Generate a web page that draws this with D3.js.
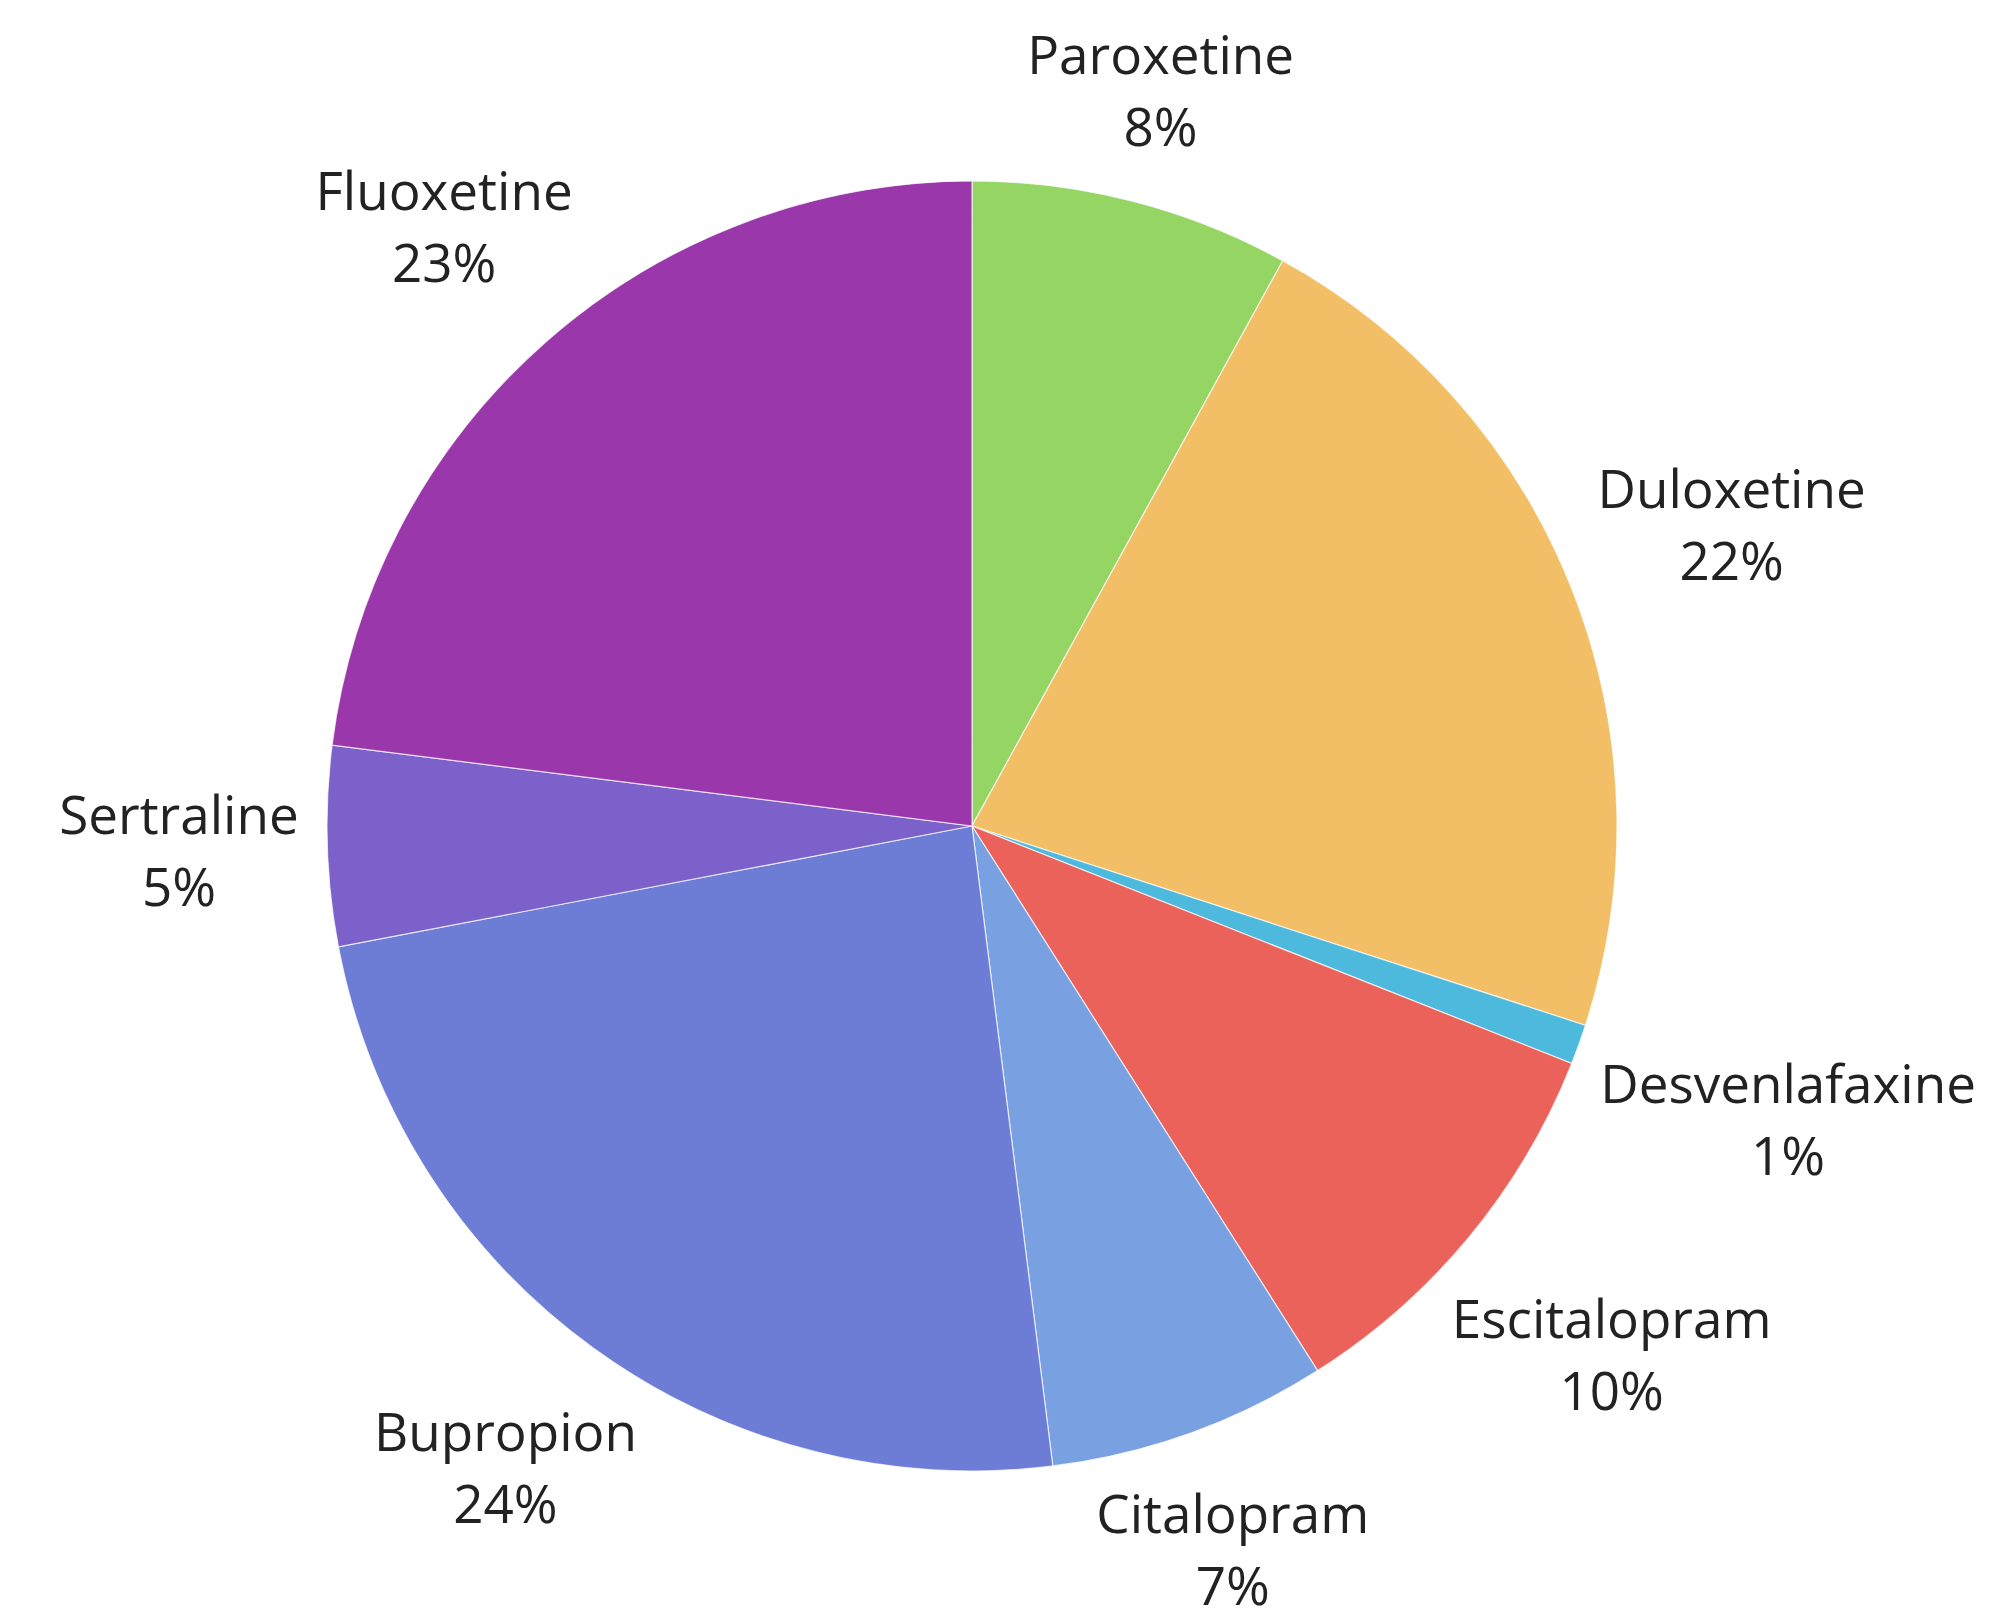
<!DOCTYPE html>
<html>
<head>
<meta charset="utf-8">
<script src="https://cdn.jsdelivr.net/npm/d3@7"></script>
<style>
  html, body { margin: 0; padding: 0; background: #ffffff; }
  svg { display: block; }
</style>
</head>
<body>
<svg id="chart" width="1992" height="1623"></svg>
<script>
const categories = ["Paroxetine", "Duloxetine", "Desvenlafaxine", "Escitalopram", "Citalopram", "Bupropion", "Sertraline", "Fluoxetine"];
const values = [8, 22, 1, 10, 7, 24, 5, 23];
const colors = ["#95d564", "#f2bf67", "#4db9dd", "#eb625a", "#79a0e0", "#6d7dd5", "#7b61c9", "#9a37ab"];

const W = 1992, H = 1623;
const cx = 972, cy = 826, R = 645;
const svg = d3.select("#chart");
const g = svg.append("g").attr("transform", `translate(${cx},${cy})`);

const data = categories.map((c, i) => ({ name: c, value: values[i], color: colors[i] }));
const total = d3.sum(values);
const pie = d3.pie().sort(null).value(d => d.value);
const arcs = pie(data);
const arc = d3.arc().innerRadius(0).outerRadius(R);

g.selectAll("path.slice")
  .data(arcs)
  .enter().append("path")
  .attr("class", "slice")
  .attr("d", arc)
  .attr("fill", d => d.data.color)
  .attr("stroke", "#ffffff")
  .attr("stroke-opacity", 0.7)
  .attr("stroke-width", 1.2);

const fontSize = 53, lineGap = 72, cap = fontSize * 0.714;
const base = R + 27;
const fmt = d => Math.round(d.value / total * 100) + "%";

arcs.forEach(d => {
  const theta = (d.startAngle + d.endAngle) / 2;
  const t = g.append("text")
    .attr("font-family", "'Open Sans', sans-serif")
    .attr("font-size", fontSize)
    .attr("fill", "#222222")
    .attr("text-anchor", "middle");
  const l1 = t.append("tspan").attr("x", 0).text(d.data.name);
  const l2 = t.append("tspan").attr("x", 0).text(fmt(d.data));
  const w = Math.max(l1.node().getComputedTextLength(), l2.node().getComputedTextLength());
  const h = 110;
  const s = Math.sin(theta), c = Math.cos(theta);
  const rc = base + Math.abs(s) * w / 2 + Math.abs(c) * h / 2;
  const x = rc * s, y = -rc * c;
  l1.attr("x", x).attr("y", y - lineGap / 2 + cap / 2);
  l2.attr("x", x).attr("y", y + lineGap / 2 + cap / 2);
});
</script>
</body>
</html>
